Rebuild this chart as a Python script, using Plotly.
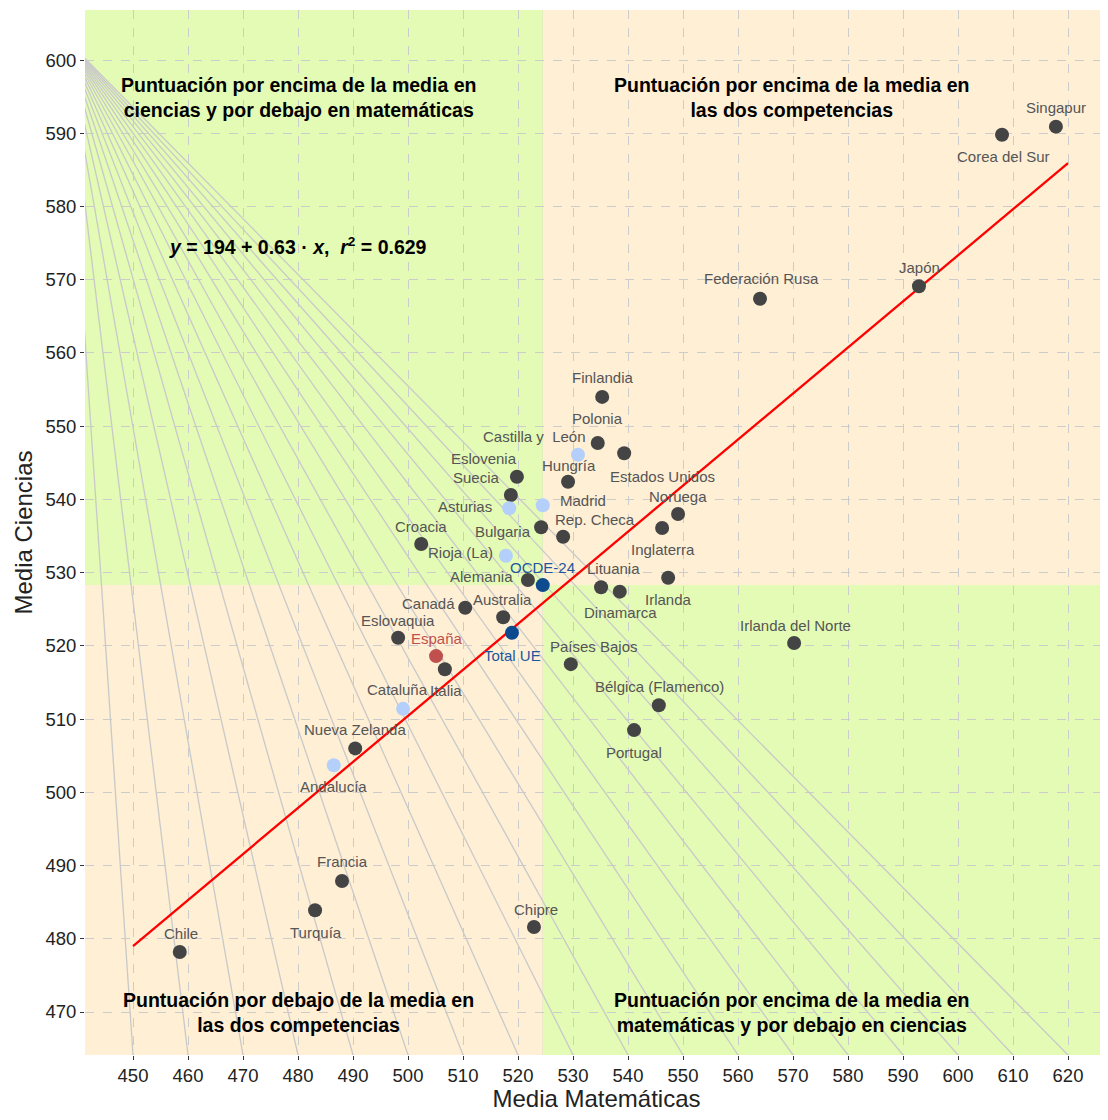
import numpy as np
import plotly.graph_objects as go

# ---------------- data ----------------
countries = ["Singapur", "Corea del Sur", "Japón", "Federación Rusa", "Finlandia", "Polonia",
             "Estados Unidos", "Hungría", "Eslovenia", "Suecia", "Noruega", "Rep. Checa",
             "Bulgaria", "Inglaterra", "Croacia", "Alemania", "Lituania", "Dinamarca", "Irlanda",
             "Canadá", "Australia", "Eslovaquia", "Irlanda del Norte", "Italia", "Países Bajos",
             "Bélgica (Flamenco)", "Portugal", "Nueva Zelanda", "Francia", "Turquía", "Chipre", "Chile"]
country_math = [617.8, 608.0, 592.9, 564.0, 535.3, 534.5, 539.3, 529.1, 519.8, 518.7, 549.1, 528.2,
                524.2, 546.2, 502.4, 521.8, 535.1, 538.5, 547.3, 510.4, 517.3, 498.2, 570.2, 506.7,
                529.6, 545.6, 541.1, 490.4, 488.0, 483.1, 522.9, 458.5]
country_sci = [590.9, 589.8, 569.1, 567.4, 554.0, 547.7, 546.3, 542.4, 543.1, 540.6, 538.0, 534.9,
               536.2, 536.1, 533.9, 529.0, 528.0, 527.4, 529.3, 525.2, 523.9, 521.1, 520.4, 516.8,
               517.5, 511.9, 508.5, 506.0, 487.9, 483.9, 481.6, 478.2]

regions = ["Castilla y  León", "Madrid", "Asturias", "Rioja (La)", "Cataluña", "Andalucía"]
region_math = [530.9, 524.5, 518.4, 517.8, 499.1, 486.5]
region_sci = [546.1, 539.2, 538.8, 532.3, 511.4, 503.7]

spain = ["España"]
spain_math = [505.1]
spain_sci = [518.6]

aggregates = ["OCDE-24", "Total UE"]
agg_math = [524.5, 518.9]
agg_sci = [528.3, 521.8]

x_ticks = list(range(450, 621, 10))
y_ticks = list(range(470, 601, 10))

# ---------------- layout constants ----------------
X_RANGE = [441.27, 627.27]
Y_RANGE = [464.13, 606.83]
mean_x = agg_math[0]
mean_y = agg_sci[0]

GREEN = "#e3fbb4"
BEIGE = "#feefd5"
DARK = "#444444"
LIGHTBLUE = "#b5cffb"
RED = "#c0504d"
BLUE = "#0d4a8e"
FONT = "Liberation Sans, Arial"

# label offsets (pixels): dx, dy (dy positive = up)
offsets = {
    "Singapur": (0, 19), "Corea del Sur": (1, -22), "Japón": (1, 19), "Federación Rusa": (1, 20),
    "Finlandia": (1, 19), "Polonia": (0, 25), "Castilla y  León": (-43, 18), "Estados Unidos": (38, -23),
    "Hungría": (1, 16), "Eslovenia": (-33, 18), "Suecia": (-34, 18), "Madrid": (40, 5),
    "Noruega": (0, 18), "Asturias": (-44, 2), "Rep. Checa": (32, 17), "Bulgaria": (-38, -4),
    "Croacia": (0, 18), "Inglaterra": (1, -22), "Rioja (La)": (-45, 3), "OCDE-24": (0, 18),
    "Lituania": (12, 19), "Alemania": (-46, 3), "Canadá": (-37, 4), "Australia": (-1, 18),
    "Dinamarca": (1, -21), "Irlanda": (0, -22), "Eslovaquia": (0, 17), "España": (1, 18),
    "Total UE": (1, -23), "Irlanda del Norte": (1, 17), "Países Bajos": (23, 18), "Italia": (1, -21),
    "Cataluña": (-6, 19), "Bélgica (Flamenco)": (1, 19), "Nueva Zelanda": (0, 19), "Portugal": (0, -22),
    "Andalucía": (0, -21), "Francia": (0, 19), "Turquía": (1, -22), "Chipre": (2, 18), "Chile": (1, 18),
}

fig = go.Figure()

# quadrant backgrounds and mean lines
shapes = [
    dict(type="rect", xref="x", yref="y", x0=X_RANGE[0], x1=mean_x, y0=mean_y, y1=Y_RANGE[1],
         fillcolor=GREEN, line_width=0, layer="below"),
    dict(type="rect", xref="x", yref="y", x0=mean_x, x1=X_RANGE[1], y0=mean_y, y1=Y_RANGE[1],
         fillcolor=BEIGE, line_width=0, layer="below"),
    dict(type="rect", xref="x", yref="y", x0=X_RANGE[0], x1=mean_x, y0=Y_RANGE[0], y1=mean_y,
         fillcolor=BEIGE, line_width=0, layer="below"),
    dict(type="rect", xref="x", yref="y", x0=mean_x, x1=X_RANGE[1], y0=Y_RANGE[0], y1=mean_y,
         fillcolor=GREEN, line_width=0, layer="below"),
    dict(type="line", xref="x", yref="paper", x0=mean_x, x1=mean_x, y0=0, y1=1,
         line=dict(color="#bdbdbd", width=1.5), layer="between"),
    dict(type="line", xref="paper", yref="y", x0=0, x1=1, y0=mean_y, y1=mean_y,
         line=dict(color="#bdbdbd", width=1.5), layer="between"),
]

# decorative fan of grey lines (from a point beyond the upper-left corner to each x tick at the bottom)
fan_cx, fan_cy = 437.6, 603.0
fx, fy = [], []
for t in x_ticks:
    fx += [fan_cx, t, None]
    fy += [fan_cy, Y_RANGE[0], None]
fig.add_trace(go.Scatter(x=fx, y=fy, mode="lines", line=dict(color="#c9c9c9", width=1.3),
                         hoverinfo="skip", showlegend=False))

# regression line
b1, b0 = np.polyfit(country_math + spain_math, country_sci + spain_sci, 1)
rx = np.array([450, 620])
fig.add_trace(go.Scatter(x=rx, y=b0 + b1 * rx, mode="lines", line=dict(color="#ff0000", width=2.3),
                         hoverinfo="skip", showlegend=False))

# points
def add_points(xs, ys, color):
    fig.add_trace(go.Scatter(x=xs, y=ys, mode="markers",
                             marker=dict(color=color, size=14, line=dict(width=0)),
                             showlegend=False, cliponaxis=False))

add_points(country_math, country_sci, DARK)
add_points(region_math, region_sci, LIGHTBLUE)
add_points(spain_math, spain_sci, RED)
add_points(agg_math, agg_sci, BLUE)

annotations = []
def add_labels(names, xs, ys, color):
    for n, xv, yv in zip(names, xs, ys):
        dx, dy = offsets[n]
        annotations.append(dict(x=xv, y=yv, text=n, showarrow=False, xshift=dx, yshift=dy,
                                font=dict(size=15, color=color, family=FONT),
                                xanchor="center", yanchor="middle"))

add_labels(countries, country_math, country_sci, "#555555")
add_labels(regions, region_math, region_sci, "#555555")
add_labels(spain, spain_math, spain_sci, RED)
add_labels(aggregates, agg_math, agg_sci, "#1f56a0")

qfont = dict(size=19.5, color="black", family=FONT)
quad_texts = [
    (480.0, 594.9, "<b>Puntuación por encima de la media en<br>ciencias y por debajo en matemáticas</b>"),
    (569.8, 594.9, "<b>Puntuación por encima de la media en<br>las dos competencias</b>"),
    (480.0, 470.0, "<b>Puntuación por debajo de la media en<br>las dos competencias</b>"),
    (569.8, 470.0, "<b>Puntuación por encima de la media en<br>matemáticas y por debajo en ciencias</b>"),
]
for xq, yq, tq in quad_texts:
    annotations.append(dict(x=xq, y=yq, text=tq, showarrow=False, font=qfont,
                            xanchor="center", yanchor="middle", align="center"))

annotations.append(dict(x=480.0, y=574.6, showarrow=False, xanchor="center", yanchor="middle",
                        text="<b><i>y</i> = 194 + 0.63 · <i>x</i>,  <i>r</i><sup>2</sup> = 0.629</b>",
                        font=dict(size=19.5, color="black", family=FONT)))

fig.update_layout(
    width=1100, height=1104,
    margin=dict(l=77, r=0, t=2, b=57, autoexpand=False),
    paper_bgcolor="white", plot_bgcolor=GREEN,
    shapes=shapes, annotations=annotations,
    font=dict(family=FONT, color="#222222"),
    xaxis=dict(range=X_RANGE, tickvals=x_ticks, showgrid=True, gridcolor="#cccccc", griddash="dash",
               gridwidth=1, zeroline=False, ticks="outside", ticklen=4, tickcolor="#333333",
               automargin=False, tickfont=dict(size=18.5),
               title=dict(text="Media Matemáticas", font=dict(size=24), standoff=6)),
    yaxis=dict(range=Y_RANGE, tickvals=y_ticks, showgrid=True, gridcolor="#cccccc", griddash="dash",
               gridwidth=1, zeroline=False, ticks="outside", ticklen=4, tickcolor="#333333",
               automargin=False, tickfont=dict(size=18.5),
               title=dict(text="Media Ciencias", font=dict(size=24), standoff=6)),
)

fig.write_html("out.html")
